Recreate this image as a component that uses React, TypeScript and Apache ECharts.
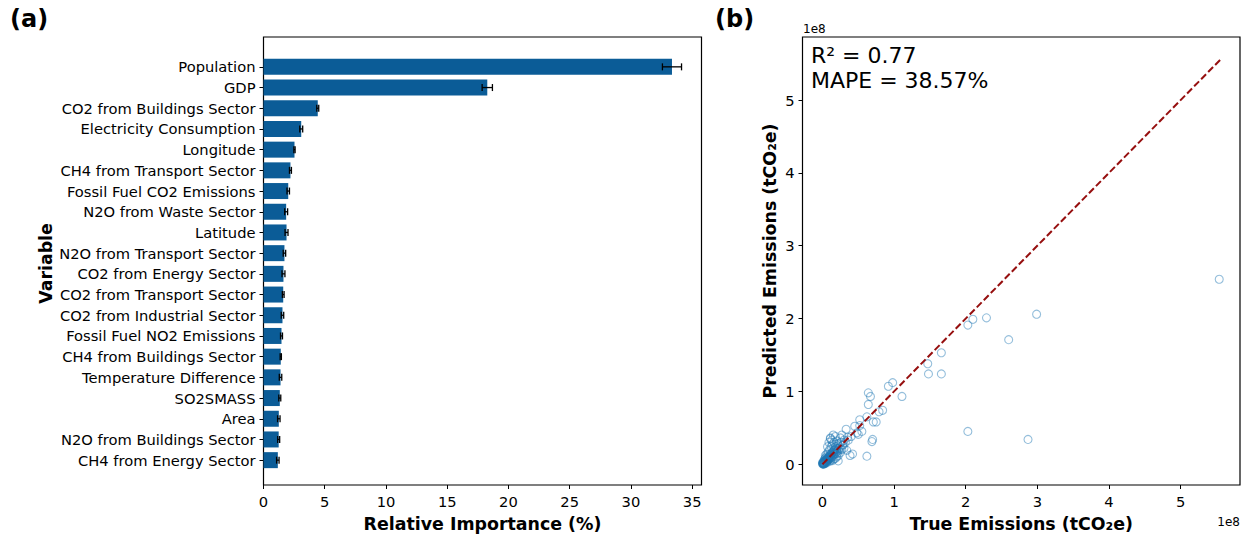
import React, { useEffect, useRef } from "react";
import * as echarts from "echarts";

// Panel (a): permutation importance (top to bottom)
const variables = [
  "Population",
  "GDP",
  "CO2 from Buildings Sector",
  "Electricity Consumption",
  "Longitude",
  "CH4 from Transport Sector",
  "Fossil Fuel CO2 Emissions",
  "N2O from Waste Sector",
  "Latitude",
  "N2O from Transport Sector",
  "CO2 from Energy Sector",
  "CO2 from Transport Sector",
  "CO2 from Industrial Sector",
  "Fossil Fuel NO2 Emissions",
  "CH4 from Buildings Sector",
  "Temperature Difference",
  "SO2SMASS",
  "Area",
  "N2O from Buildings Sector",
  "CH4 from Energy Sector",
];
const importance = [
  33.35, 18.27, 4.43, 3.08, 2.53, 2.2, 2.02, 1.85, 1.88, 1.71, 1.63, 1.61, 1.55,
  1.47, 1.41, 1.39, 1.33, 1.25, 1.24, 1.17,
];
const importanceErr = [
  0.78, 0.42, 0.08, 0.12, 0.05, 0.08, 0.1, 0.12, 0.12, 0.1, 0.12, 0.07, 0.1,
  0.08, 0.05, 0.1, 0.08, 0.1, 0.08, 0.1,
];
const importanceTicks = [0, 5, 10, 15, 20, 25, 30, 35];

// Panel (b): true vs predicted emissions, in units of 1e8 tCO2e
const emissionTicks = [0, 1, 2, 3, 4, 5];
const emissionPoints: number[][] = [
  [5.54, 2.54], [2.99, 2.06], [2.6, 1.71], [2.29, 2.01], [2.1, 1.99], [2.03, 1.91],
  [1.66, 1.53], [1.47, 1.38], [1.48, 1.24], [1.66, 1.24], [2.03, 0.45], [2.87, 0.34],
  [1.11, 0.93], [0.98, 1.12], [0.92, 1.07], [0.64, 0.98], [0.67, 0.93], [0.64, 0.82],
  [0.84, 0.74], [0.79, 0.72], [0.52, 0.61], [0.62, 0.65], [0.75, 0.58], [0.71, 0.58],
  [0.52, 0.53], [0.48, 0.43], [0.33, 0.48], [0.5, 0.41], [0.7, 0.34], [0.69, 0.31],
  [0.42, 0.14], [0.385, 0.12], [0.62, 0.11], [0.22, 0.045], [0.11, 0.36], [0.25, 0.36],
  [0.2, 0.32], [0.29, 0.27], [0.34, 0.19], [0.45, 0.52], [0.4, 0.38], [0.36, 0.33],
  [0.55, 0.45], [0.27, 0.4], [0.15, 0.4], [0.18, 0.38],
  [0.01, 0.02], [0.02, 0.01], [0.03, 0.04], [0.015, 0.03], [0.04, 0.02], [0.05, 0.06],
  [0.06, 0.04], [0.02, 0.05], [0.07, 0.08], [0.08, 0.05], [0.03, 0.07], [0.09, 0.1],
  [0.1, 0.07], [0.05, 0.1], [0.11, 0.12], [0.12, 0.09], [0.04, 0.12], [0.13, 0.15],
  [0.14, 0.1], [0.06, 0.14], [0.15, 0.18], [0.16, 0.13], [0.08, 0.17], [0.17, 0.2],
  [0.18, 0.15], [0.1, 0.2], [0.19, 0.22], [0.2, 0.17], [0.12, 0.24], [0.21, 0.25],
  [0.22, 0.19], [0.14, 0.27], [0.24, 0.28], [0.25, 0.21], [0.16, 0.3], [0.005, 0.008],
  [0.012, 0.005], [0.025, 0.02], [0.035, 0.03], [0.045, 0.05], [0.055, 0.03], [0.065, 0.07],
  [0.075, 0.06], [0.085, 0.09], [0.095, 0.08], [0.008, 0.015], [0.018, 0.012], [0.028, 0.035],
  [0.038, 0.045], [0.048, 0.04], [0.058, 0.065], [0.068, 0.055], [0.078, 0.09], [0.088, 0.07],
  [0.098, 0.11], [0.105, 0.13], [0.115, 0.1], [0.125, 0.14], [0.135, 0.12], [0.145, 0.16],
  [0.155, 0.14], [0.165, 0.19], [0.175, 0.17], [0.185, 0.24], [0.195, 0.2], [0.205, 0.15],
  [0.215, 0.28], [0.23, 0.22], [0.26, 0.3], [0.28, 0.26], [0.3, 0.33], [0.11, 0.35],
  [0.13, 0.33], [0.09, 0.3], [0.07, 0.24], [0.2, 0.1], [0.22, 0.12], [0.18, 0.08],
  [0.25, 0.16], [0.27, 0.2], [0.3, 0.22], [0.32, 0.3], [0.35, 0.37], [0.02, 0.0],
  [0.0, 0.02], [0.01, 0.0], [0.0, 0.005], [0.03, 0.01], [0.06, 0.02], [0.04, 0.08],
  [0.14, 0.05], [0.16, 0.07], [0.1, 0.04], [0.12, 0.06],
];
const identityLine = [[0, 0], [5.57, 5.57]];

const FONT = "DejaVu Sans";

export default function App() {
  const ref = useRef<HTMLDivElement>(null);
  useEffect(() => {
    if (!ref.current) return;
    const chart = echarts.init(ref.current, undefined, { renderer: "svg" });
    const tickLabel = { fontFamily: FONT, fontSize: 14.7, color: "#000" };
    const axisName = { fontFamily: FONT, fontSize: 17.4, fontWeight: "bold", color: "#000" };
    const tick = { show: true, length: 4, inside: false, lineStyle: { color: "#000", width: 1 } };
    const errData = importance.map((v, i) => [v, importanceErr[i], i]);
    chart.setOption({
      animation: false,
      backgroundColor: "#fff",
      grid: [
        { left: 263.5, top: 37, width: 438, height: 452, show: true, borderColor: "#000", borderWidth: 1.2, containLabel: false },
        { left: 263.5, top: 56.5, width: 438, height: 414, show: false, containLabel: false },
        { left: 802.5, top: 37, width: 437.5, height: 452, show: true, borderColor: "#000", borderWidth: 1.2, containLabel: false },
      ],
      xAxis: [
        {
          type: "value", gridIndex: 0, min: 0, max: 35.76, position: "bottom",
          axisLine: { show: false, onZero: false },
          axisTick: { ...tick, customValues: importanceTicks },
          axisLabel: { ...tickLabel, margin: 9, customValues: importanceTicks },
          splitLine: { show: false },
          name: "Relative Importance (%)", nameLocation: "middle", nameGap: 30, nameTextStyle: axisName,
        },
        { type: "value", gridIndex: 1, min: 0, max: 35.76, show: false },
        {
          type: "value", gridIndex: 2, min: -0.279, max: 5.83, position: "bottom",
          axisLine: { show: false, onZero: false },
          axisTick: { ...tick, customValues: emissionTicks },
          axisLabel: { ...tickLabel, margin: 9, customValues: emissionTicks },
          splitLine: { show: false },
          name: "True Emissions (tCO\u2082e)", nameLocation: "middle", nameGap: 30, nameTextStyle: axisName,
        },
      ],
      yAxis: [
        { type: "value", gridIndex: 0, min: 0, max: 1, show: false },
        {
          type: "category", gridIndex: 1, data: variables, inverse: true, position: "left",
          axisLine: { show: false, onZero: false },
          axisTick: { ...tick, alignWithLabel: true },
          axisLabel: { ...tickLabel, margin: 8, interval: 0 },
          name: "Variable", nameLocation: "middle", nameGap: 209, nameRotate: 90, nameTextStyle: axisName,
        },
        {
          type: "value", gridIndex: 2, min: -0.286, max: 5.867, position: "left",
          axisLine: { show: false, onZero: false },
          axisTick: { ...tick, customValues: emissionTicks },
          axisLabel: { ...tickLabel, margin: 8, customValues: emissionTicks },
          splitLine: { show: false },
          name: "Predicted Emissions (tCO\u2082e)", nameLocation: "middle", nameGap: 24, nameRotate: 90, nameTextStyle: axisName,
        },
      ],
      series: [
        {
          type: "bar", xAxisIndex: 1, yAxisIndex: 1, data: importance, barWidth: 16,
          itemStyle: { color: "#0b5c97" },
        },
        {
          type: "custom", xAxisIndex: 1, yAxisIndex: 1, data: errData,
          encode: { x: 0, y: 2 },
          z: 5,
          renderItem: (params: any, api: any) => {
            const v = api.value(0);
            const e = api.value(1);
            const idx = api.value(2);
            const p1 = api.coord([v - e, idx]);
            const p2 = api.coord([v + e, idx]);
            const h = 3.5;
            const st = { stroke: "#000", lineWidth: 1.3 };
            return {
              type: "group",
              children: [
                { type: "line", shape: { x1: p1[0], y1: p1[1], x2: p2[0], y2: p2[1] }, style: st },
                { type: "line", shape: { x1: p1[0], y1: p1[1] - h, x2: p1[0], y2: p1[1] + h }, style: st },
                { type: "line", shape: { x1: p2[0], y1: p2[1] - h, x2: p2[0], y2: p2[1] + h }, style: st },
              ],
            };
          },
        },
        {
          type: "scatter", xAxisIndex: 2, yAxisIndex: 2, data: emissionPoints,
          symbol: "circle", symbolSize: 8,
          itemStyle: { color: "rgba(0,0,0,0)", borderColor: "rgba(31,119,180,0.6)", borderWidth: 1.1 },
        },
        {
          type: "line", xAxisIndex: 2, yAxisIndex: 2, data: identityLine, symbol: "none", z: 4,
          lineStyle: { color: "#960f0f", width: 2, type: [7, 3] },
        },
      ],
      graphic: [
        { type: "text", left: 10, top: 7, style: { text: "(a)", font: `bold 24px "${FONT}"`, fill: "#000" } },
        { type: "text", left: 715, top: 7, style: { text: "(b)", font: `bold 24px "${FONT}"`, fill: "#000" } },
        { type: "text", left: 811, top: 44, style: { text: "R\u00b2 = 0.77", font: `22px "${FONT}"`, fill: "#000" } },
        { type: "text", left: 811, top: 69, style: { text: "MAPE = 38.57%", font: `22px "${FONT}"`, fill: "#000" } },
        { type: "text", left: 803, top: 23, style: { text: "1e8", font: `12px "${FONT}"`, fill: "#000" } },
        { type: "text", right: 2, top: 516, style: { text: "1e8", font: `12px "${FONT}"`, fill: "#000" } },
      ],
    });
    return () => chart.dispose();
  }, []);
  return <div ref={ref} style={{ position: "fixed", left: 0, top: 0, width: 1242, height: 537 }} />;
}
